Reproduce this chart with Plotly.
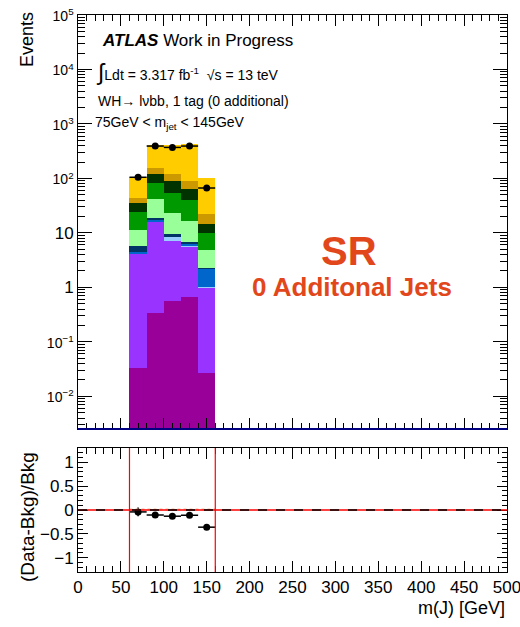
import plotly.graph_objects as go

# ---- data ----
bin_centers = [70, 90, 110, 130, 150]
bin_width = 20
series_names = ["Higgs", "ttbar", "stop light", "stop", "stop dark", "Wl", "Wc", "Wb", "Z", "W+hf"]
series_colors = ["#990099", "#9933FF", "#99CCFF", "#0066CC", "#003366",
                 "#99FF99", "#009900", "#003300", "#CC9900", "#FFCC00"]
s_magenta = [0.0327, 0.34, 0.56, 0.676, 0.0272]
s_purple = [4.12, 15.96, 6.54, 5.07, 0.95]
s_lightblue = [0.05, 0.2, 1.4, 0.1, 0.05]
s_blue = [0.2, 1.2, 0.2, 0.4, 1.17]
s_navy = [1.35, 1.3, 0.7, 0.55, 0.1]
s_lightgreen = [5.55, 22.7, 13.4, 9.7, 2.6]
s_green = [12.5, 40.3, 31.9, 23.5, 5.1]
s_darkgreen = [11.2, 41.0, 33.3, 23.0, 4.8]
s_darkgold = [8.6, 32.0, 32.0, 27.8, 7.4]
s_yellow = [61.4, 260.0, 284.0, 337.2, 80.8]
stack = [s_magenta, s_purple, s_lightblue, s_blue, s_navy,
         s_lightgreen, s_green, s_darkgreen, s_darkgold, s_yellow]

data_vals = [105, 393, 371, 393, 66.7]
data_errs = [10, 20, 19, 20, 8]
ratio_vals = [-0.04, -0.105, -0.13, -0.11, -0.36]
ratio_errs = [0.09, 0.04, 0.04, 0.04, 0.06]
x_half = [10, 10, 10, 10, 10]

# log axis tick labels (ROOT style)
ylog_exps = [-2, -1, 0, 1, 2, 3, 4, 5]

FONT = "Liberation Sans, Arial, sans-serif"

fig = go.Figure()
for name, vals, col in zip(series_names, stack, series_colors):
    fig.add_trace(go.Bar(x=bin_centers, y=vals, width=bin_width, name=name,
                         marker=dict(color=col, line=dict(width=0)),
                         xaxis="x", yaxis="y", showlegend=False))

fig.add_trace(go.Scatter(x=bin_centers, y=data_vals, mode="markers",
                         marker=dict(color="black", size=7),
                         error_x=dict(type="data", array=x_half, color="black", thickness=1.5, width=0),
                         error_y=dict(type="data", array=data_errs, color="black", thickness=1.5, width=0),
                         xaxis="x", yaxis="y", showlegend=False))

fig.add_trace(go.Scatter(x=bin_centers, y=ratio_vals, mode="markers",
                         marker=dict(color="black", size=7),
                         error_x=dict(type="data", array=x_half, color="black", thickness=1.5, width=0),
                         error_y=dict(type="data", array=ratio_errs, color="black", thickness=1.5, width=0),
                         xaxis="x2", yaxis="y2", showlegend=False))

tickfont = dict(family=FONT, size=17, color="black")
common_x = dict(range=[-0.01, 500.01], dtick=50, ticks="inside", ticklen=11, tickcolor="black",
                minor=dict(ticks="inside", ticklen=6, dtick=10, tickcolor="black"),
                showline=True, linecolor="black", linewidth=1, mirror="ticks",
                showgrid=False, zeroline=False, tickfont=tickfont,
                ticklabeloverflow="allow", automargin=False)

# ROOT-style labels: plain numbers for 1 and 10, smaller 10^n otherwise
ytickvals = [10.0 ** e for e in ylog_exps]
yticktext = []
for e in ylog_exps:
    if e == 0:
        yticktext.append("1")
    elif e == 1:
        yticktext.append("10")
    else:
        sgn = "\u2212" if e < 0 else ""
        yticktext.append("<span style='font-size:14px'>10<sup>%s%d</sup></span>" % (sgn, abs(e)))
yminor = [m * 10.0 ** e for e in range(-3, 5) for m in range(2, 10)]

fig.update_layout(
    width=520, height=627,
    margin=dict(l=78, r=13, t=15, b=55),
    paper_bgcolor="white", plot_bgcolor="white",
    barmode="stack", bargap=0,
    xaxis=dict(domain=[0, 1], anchor="y", showticklabels=False, **common_x),
    yaxis=dict(domain=[0.2567, 1], type="log", range=[-2.6, 5],
               tickmode="array", tickvals=ytickvals, ticktext=yticktext,
               ticks="inside", ticklen=14, tickcolor="black",
               minor=dict(ticks="inside", ticklen=7, tickcolor="black",
                          tickmode="array", tickvals=yminor),
               showline=True, linecolor="black", mirror="ticks", showgrid=False,
               zeroline=False, tickfont=tickfont, automargin=False),
    xaxis2=dict(domain=[0, 1], anchor="y2", **common_x),
    yaxis2=dict(domain=[0, 0.2226], anchor="x2", range=[-1.3, 1.3], dtick=0.5,
                ticks="inside", ticklen=10, tickcolor="black",
                minor=dict(ticks="inside", ticklen=5, dtick=0.1, tickcolor="black"),
                showline=True, linecolor="black", mirror="ticks", showgrid=False,
                zeroline=False, tickfont=tickfont, automargin=False),
)

shapes = [
    dict(type="line", xref="x domain", yref="y domain", x0=0, x1=1, y0=0, y1=0,
         line=dict(color="#000080", width=2)),
    dict(type="line", xref="x2", yref="y2", x0=60, x1=160, y0=0.012, y1=0.012,
         line=dict(color="#F6B89A", width=2, dash="dot")),
    dict(type="line", xref="x2", yref="y2 domain", x0=60, x1=60, y0=0, y1=1,
         line=dict(color="red", width=1.2)),
    dict(type="line", xref="x2", yref="y2 domain", x0=160, x1=160, y0=0, y1=1,
         line=dict(color="red", width=1.2)),
    dict(type="line", xref="x2 domain", yref="y2", x0=0, x1=1, y0=0, y1=0,
         line=dict(color="red", width=1.5)),
    dict(type="line", xref="x2 domain", yref="y2", x0=0, x1=1, y0=0, y1=0,
         line=dict(color="black", width=1.5, dash="dash")),
]
fig.update_layout(shapes=shapes)

def px(xp):
    return (xp - 78) / 429.0

def py(yp):
    return (572 - yp) / 557.0

ann = []
ann.append(dict(x=px(100), y=py(40), xref="paper", yref="paper", xanchor="left", yanchor="middle",
                showarrow=False, text="<b><i>ATLAS</i></b> Work in Progress",
                font=dict(family=FONT, size=17, color="black")))
ann.append(dict(x=px(94), y=py(72), xref="paper", yref="paper", xanchor="left", yanchor="middle",
                showarrow=False,
                text="<span style='font-size:23px'>∫</span>Ldt = 3.317 fb<sup>-1</sup>  √s = 13 teV",
                font=dict(family=FONT, size=14, color="black")))
ann.append(dict(x=px(96), y=py(101), xref="paper", yref="paper", xanchor="left", yanchor="middle",
                showarrow=False, text="WH→ lνbb, 1 tag (0 additional)",
                font=dict(family=FONT, size=14, color="black")))
ann.append(dict(x=px(93), y=py(123), xref="paper", yref="paper", xanchor="left", yanchor="middle",
                showarrow=False, text="75GeV < m<sub>jet</sub> < 145GeV",
                font=dict(family=FONT, size=14, color="black")))
ann.append(dict(x=px(349), y=py(251), xref="paper", yref="paper", xanchor="center", yanchor="middle",
                showarrow=False, text="<b>SR</b>",
                font=dict(family=FONT, size=40, color="#E2471B")))
ann.append(dict(x=px(352), y=py(287), xref="paper", yref="paper", xanchor="center", yanchor="middle",
                showarrow=False, text="<b>0 Additonal Jets</b>",
                font=dict(family=FONT, size=26, color="#E2471B")))
ann.append(dict(x=px(27), y=py(40), xref="paper", yref="paper", xanchor="center", yanchor="middle",
                showarrow=False, text="Events", textangle=-90,
                font=dict(family=FONT, size=18, color="black")))
ann.append(dict(x=px(27), y=py(517), xref="paper", yref="paper", xanchor="center", yanchor="middle",
                showarrow=False, text="(Data-Bkg)/Bkg", textangle=-90,
                font=dict(family=FONT, size=19, color="black")))
ann.append(dict(x=px(507), y=py(608), xref="paper", yref="paper", xanchor="right", yanchor="middle",
                showarrow=False, text="m(J) [GeV]",
                font=dict(family=FONT, size=18, color="black")))
fig.update_layout(annotations=ann)

fig.write_html("out.html")
